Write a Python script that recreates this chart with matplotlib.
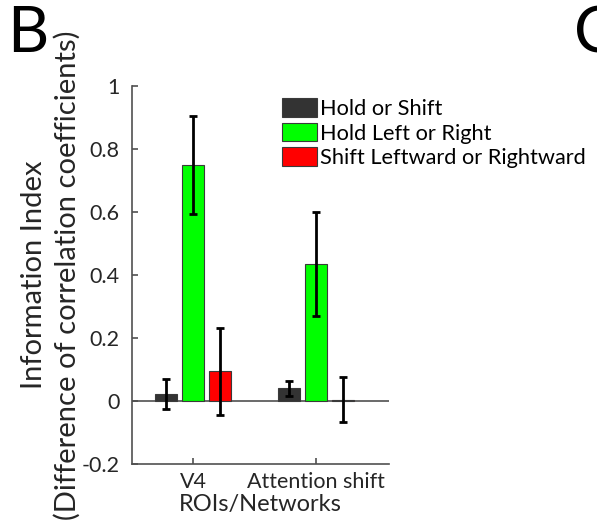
import numpy as np
import matplotlib
matplotlib.use("Agg")
import matplotlib.pyplot as plt
from matplotlib.ticker import FuncFormatter

plt.rcParams['font.family'] = ['Lato', 'DejaVu Sans']

# ### data
groups = ["V4", "Attention shift"]
series = ["Hold or Shift", "Hold Left or Right", "Shift Leftward or Rightward"]
colors = ["#333333", "#00ff00", "#ff0000"]

hold_or_shift = [0.022, 0.041]
hold_lr = [0.750, 0.434]
shift_lr = [0.094, 0.004]

err_hold_or_shift = [0.047, 0.024]
err_hold_lr = [0.155, 0.165]
err_shift_lr = [0.138, 0.072]

values = [hold_or_shift, hold_lr, shift_lr]
errors = [err_hold_or_shift, err_hold_lr, err_shift_lr]

fig = plt.figure(figsize=(5.97, 5.29), dpi=100)
ax = fig.add_axes([0.2211, 0.1229, 0.4305, 0.7146])

x = np.arange(1, len(groups) + 1)
offsets = [-0.221, 0.0, 0.221]
width = 0.18
axis_col = "#505050"
txt_col = "#262626"

# baseline at zero
ax.axhline(0, color=axis_col, lw=1.2, zorder=1)

for vals, errs, off, col, name in zip(values, errors, offsets, colors, series):
    ax.bar(x + off, vals, width, color=col, edgecolor="#3a3a3a", linewidth=0.8,
           label=name, zorder=2)
    ax.errorbar(x + off, vals, yerr=errs, fmt="none", ecolor="black",
                elinewidth=2, capsize=2.6, capthick=2, zorder=3)

ax.set_xlim(0.5, 2.6)
ax.set_ylim(-0.2, 1.0)
ax.set_xticks(x)
ax.set_xticklabels(groups)
ax.set_yticks(np.arange(-0.2, 1.01, 0.2))
ax.yaxis.set_major_formatter(FuncFormatter(lambda v, p: "%g" % round(v, 1)))

for s in ["top", "right"]:
    ax.spines[s].set_visible(False)
for s in ["left", "bottom"]:
    ax.spines[s].set_color(axis_col)
    ax.spines[s].set_linewidth(1.2)
ax.tick_params(direction="in", length=4, width=1.2, color=axis_col,
               labelsize=15.5, labelcolor=txt_col)
ax.tick_params(axis="y", pad=9)
ax.tick_params(axis="x", pad=6)

ax.set_xlabel("ROIs/Networks", fontsize=17, color=txt_col, labelpad=1)
ax.set_ylabel("Information Index\n(Difference of correlation coefficients)",
              fontsize=21, color=txt_col, linespacing=1.3)
ax.yaxis.set_label_coords(-0.2, 0.5)

ax.legend(loc="upper left", bbox_to_anchor=(0.584, 0.968), frameon=False,
          fontsize=15.7, handlelength=1.58, handleheight=0.95, handletextpad=0.15,
          labelspacing=0.17, borderaxespad=0, borderpad=0)

fig.text(0.012, 0.99, "B", fontsize=46, va="top", ha="left")
fig.text(0.962, 0.99, "C", fontsize=46, va="top", ha="left")

fig.savefig("out.png", dpi=100)
